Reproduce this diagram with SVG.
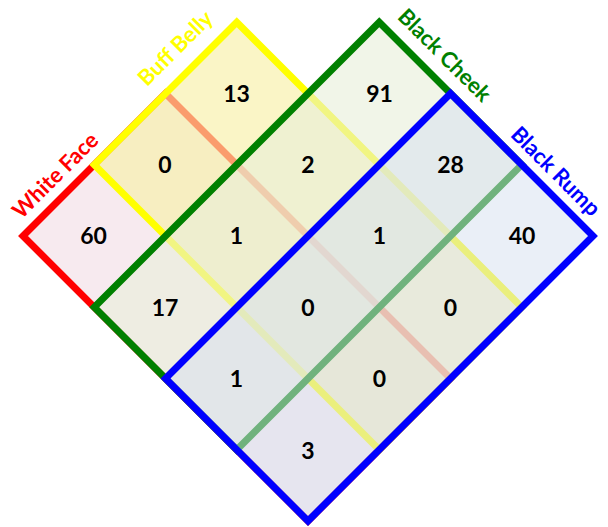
<svg xmlns="http://www.w3.org/2000/svg" width="608" height="527" viewBox="0 0 608 527">
<style>
.set{stroke-width:7;stroke-linejoin:miter}
.lbl{font-family:Lato,"Open Sans","Liberation Sans",sans-serif;font-weight:bold;font-size:22px;text-anchor:middle}
.num{font-family:Lato,"Open Sans","Liberation Sans",sans-serif;font-weight:bold;font-size:23px;text-anchor:middle;fill:#000}
</style>
<rect width="608" height="527" fill="#fff"/>
<g id="white-face">
<polygon class="set" points="23,236 165.5,93.5 450.5,378.5 308,521" fill="#f2dce4" fill-opacity="0.6" stroke="#ff0000"/>
</g>
<g id="buff-belly">
<polygon class="set" points="94.25,164.75 236.75,22.25 521.75,307.25 379.25,449.75" fill="#f8f0a8" fill-opacity="0.65" stroke="#ffff00"/>
</g>
<g id="black-cheek">
<polygon class="set" points="94.25,307.25 379.25,22.25 521.75,164.75 236.75,449.75" fill="#e8eed8" fill-opacity="0.6" stroke="#008000"/>
</g>
<g id="black-rump">
<polygon class="set" points="165.5,378.5 450.5,93.5 593,236 308,521" fill="#d7e1f0" fill-opacity="0.52" stroke="#0000ff"/>
</g>
<g id="set-labels">
<text class="lbl" fill="#ff0000" transform="translate(55,175) rotate(-45)" dy="8">White Face</text>
<text class="lbl" fill="#ffff00" transform="translate(175,48) rotate(-45)" dy="8">Buff Belly</text>
<text class="lbl" fill="#008000" transform="translate(445,55) rotate(45)" dy="8">Black Cheek</text>
<text class="lbl" fill="#0000ff" transform="translate(556,171) rotate(45)" dy="8">Black Rump</text>
</g>
<g id="counts">
<text class="num" x="93.5" y="244">60</text>
<text class="num" x="165" y="173">0</text>
<text class="num" x="236.5" y="102">13</text>
<text class="num" x="165" y="316">17</text>
<text class="num" x="236.5" y="244">1</text>
<text class="num" x="308" y="173">2</text>
<text class="num" x="379.5" y="102">91</text>
<text class="num" x="236.5" y="387">1</text>
<text class="num" x="308" y="316">0</text>
<text class="num" x="379.5" y="244">1</text>
<text class="num" x="450.5" y="173">28</text>
<text class="num" x="308" y="459">3</text>
<text class="num" x="379.5" y="387">0</text>
<text class="num" x="450.5" y="316">0</text>
<text class="num" x="522" y="244">40</text>
</g>
</svg>
